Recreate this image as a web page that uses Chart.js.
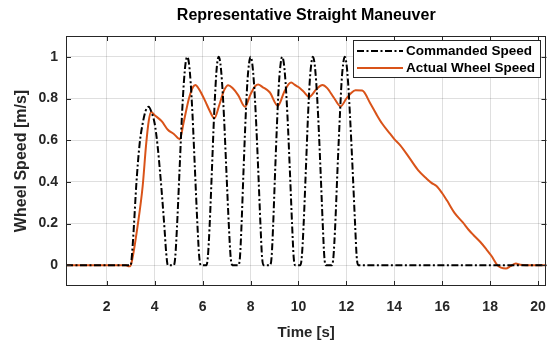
<!DOCTYPE html>
<html>
<head>
<meta charset="utf-8">
<script src="https://cdn.jsdelivr.net/npm/chart.js@4"></script>
<style>
html,body{margin:0;padding:0;background:#fff;}
#wrap{width:559px;height:343px;position:relative;}
</style>
</head>
<body>
<div id="wrap"><canvas id="c" width="559" height="343"></canvas></div>
<script>
// ---- data ----
const titleText = "Representative Straight Maneuver";
const xAxisTitle = "Time [s]";
const yAxisTitle = "Wheel Speed [m/s]";
const seriesNames = ["Commanded Speed", "Actual Wheel Speed"];

const xTicks = [2, 4, 6, 8, 10, 12, 14, 16, 18, 20];
const yTicks = [0, 0.2, 0.4, 0.6, 0.8, 1];

const cmdTime = [0.3, 3.0, 3.06, 3.14, 3.23, 3.37, 3.5, 3.62, 3.75, 3.88, 4.0, 4.12, 4.23, 4.33, 4.42, 4.48, 4.55,
  4.8, 4.86, 4.93, 5.04, 5.14, 5.22, 5.29, 5.36, 5.43, 5.5, 5.58, 5.68, 5.79, 5.86, 5.93,
  6.16, 6.22, 6.29, 6.39, 6.48, 6.55, 6.61, 6.67, 6.74, 6.81, 6.89, 6.99, 7.1, 7.17, 7.24,
  7.5, 7.56, 7.62, 7.71, 7.8, 7.87, 7.94, 8.0, 8.07, 8.14, 8.22, 8.32, 8.42, 8.48, 8.54,
  8.82, 8.88, 8.94, 9.03, 9.12, 9.19, 9.26, 9.32, 9.39, 9.46, 9.54, 9.64, 9.74, 9.8, 9.86,
  10.08, 10.14, 10.21, 10.31, 10.4, 10.47, 10.54, 10.6, 10.67, 10.74, 10.82, 10.92, 11.02, 11.08, 11.14,
  11.4, 11.46, 11.53, 11.63, 11.73, 11.8, 11.87, 11.93, 12.0, 12.07, 12.15, 12.26, 12.37, 12.43, 12.5,
  20.35];
const cmdSpeed = [0, 0, 0.06, 0.2, 0.38, 0.58, 0.68, 0.74, 0.76, 0.73, 0.68, 0.575, 0.44, 0.3, 0.16, 0.06, 0,
  0, 0.04, 0.18, 0.46, 0.72, 0.88, 0.97, 1.0, 0.97, 0.88, 0.72, 0.46, 0.18, 0.04, 0,
  0, 0.04, 0.18, 0.46, 0.72, 0.88, 0.97, 1.0, 0.97, 0.88, 0.72, 0.46, 0.18, 0.04, 0,
  0, 0.04, 0.18, 0.46, 0.72, 0.88, 0.97, 1.0, 0.97, 0.88, 0.72, 0.46, 0.18, 0.04, 0,
  0, 0.04, 0.18, 0.46, 0.72, 0.88, 0.97, 1.0, 0.97, 0.88, 0.72, 0.46, 0.18, 0.04, 0,
  0, 0.04, 0.18, 0.46, 0.72, 0.88, 0.97, 1.0, 0.97, 0.88, 0.72, 0.46, 0.18, 0.04, 0,
  0, 0.04, 0.18, 0.46, 0.72, 0.88, 0.97, 1.0, 0.97, 0.88, 0.72, 0.46, 0.18, 0.04, 0,
  0];

const actTime = [0.3, 2.8, 2.9, 2.98, 3.05, 3.29, 3.5, 3.64, 3.75, 3.85, 4.0, 4.3, 4.55, 4.8, 5.05,
  5.2, 5.43, 5.6, 5.7, 5.85, 6.12, 6.3, 6.49, 6.7, 6.9, 7.07, 7.25, 7.49, 7.77,
  8.0, 8.2, 8.32, 8.5, 8.8, 9.14, 9.4, 9.6, 9.7, 9.85, 10.0, 10.2, 10.45,
  10.75, 11.0, 11.2, 11.5, 11.76, 12.0, 12.18, 12.38, 12.66, 13.0, 13.25, 13.49,
  13.83, 14.0, 14.25, 14.66, 15.0, 15.35, 15.55, 15.76, 16.0, 16.2, 16.52, 16.86,
  17.1, 17.3, 17.6, 17.85, 18.05, 18.3, 18.45, 18.66, 18.85, 19.07, 19.25, 19.5, 20.35];
const actSpeed = [0, 0, -0.005, -0.005, 0.02, 0.19, 0.38, 0.575, 0.69, 0.735, 0.72, 0.69, 0.65, 0.63, 0.605,
  0.68, 0.8, 0.855, 0.865, 0.845, 0.785, 0.74, 0.705, 0.77, 0.84, 0.864, 0.85, 0.815, 0.76,
  0.82, 0.86, 0.867, 0.855, 0.83, 0.765, 0.83, 0.87, 0.877, 0.865, 0.855, 0.835, 0.808,
  0.845, 0.865, 0.85, 0.8, 0.762, 0.8, 0.824, 0.84, 0.838, 0.776, 0.725, 0.68,
  0.63, 0.605, 0.575, 0.51, 0.455, 0.415, 0.395, 0.38, 0.345, 0.31, 0.25, 0.205,
  0.17, 0.145, 0.11, 0.075, 0.045, 0.0, -0.012, -0.016, -0.005, 0.008, 0.002, 0, 0];

// ---- chart ----
const FONT = "'Liberation Sans', Arial, Helvetica, sans-serif";
const AX = '#262626';
const ORANGE = '#D95319';

function pts(xs, ys) { return xs.map((x, i) => ({ x: x, y: ys[i] })); }

const decor = {
  id: 'decor',
  beforeDraw(chart) {
    const ctx = chart.ctx;
    ctx.save();
    ctx.fillStyle = '#fff';
    ctx.fillRect(0, 0, chart.width, chart.height);
    ctx.restore();
  },
  afterDraw(chart) {
    const ctx = chart.ctx;
    const a = chart.chartArea;
    const xs = chart.scales.x, ys = chart.scales.y;
    ctx.save();
    // box
    ctx.strokeStyle = AX;
    ctx.lineWidth = 1;
    ctx.strokeRect(Math.round(a.left) + 0.5, Math.round(a.top) + 0.5, Math.round(a.right - a.left) - 1, Math.round(a.bottom - a.top) - 1);
    // inward ticks
    ctx.beginPath();
    xTicks.forEach(v => {
      const px = Math.round(xs.getPixelForValue(v)) + 0.5;
      ctx.moveTo(px, a.bottom); ctx.lineTo(px, a.bottom - 5);
      ctx.moveTo(px, a.top); ctx.lineTo(px, a.top + 5);
    });
    yTicks.forEach(v => {
      const py = Math.round(ys.getPixelForValue(v)) + 0.5;
      ctx.moveTo(a.left, py); ctx.lineTo(a.left + 5, py);
      ctx.moveTo(a.right, py); ctx.lineTo(a.right - 5, py);
    });
    ctx.stroke();
    // title
    const cx = (a.left + a.right) / 2;
    ctx.fillStyle = '#000';
    ctx.font = 'bold 16px ' + FONT;
    ctx.textAlign = 'center';
    ctx.textBaseline = 'alphabetic';
    ctx.fillText(titleText, cx, 20);
    // x axis title
    ctx.fillStyle = AX;
    ctx.font = 'bold 15px ' + FONT;
    ctx.fillText(xAxisTitle, cx, 337);
    // y axis title
    ctx.save();
    ctx.translate(22, (a.top + a.bottom) / 2);
    ctx.rotate(-Math.PI / 2);
    ctx.font = 'bold 16px ' + FONT;
    ctx.textBaseline = 'middle';
    ctx.fillText(yAxisTitle, 0, 0);
    ctx.restore();
    // legend
    const lx = 353.5, ly = 40.5, lw = 187, lh = 37;
    ctx.fillStyle = '#fff';
    ctx.fillRect(lx, ly, lw, lh);
    ctx.strokeStyle = AX;
    ctx.lineWidth = 1;
    ctx.strokeRect(lx, ly, lw, lh);
    const rows = [51, 68];
    chart.data.datasets.forEach((ds, i) => {
      ctx.beginPath();
      ctx.strokeStyle = ds.borderColor;
      ctx.lineWidth = ds.borderWidth;
      ctx.setLineDash(ds.borderDash || []);
      ctx.moveTo(357, rows[i]); ctx.lineTo(403, rows[i]);
      ctx.stroke();
      ctx.setLineDash([]);
      ctx.fillStyle = '#000';
      ctx.font = 'bold 13.5px ' + FONT;
      ctx.textAlign = 'left';
      ctx.textBaseline = 'middle';
      ctx.fillText(ds.label, 406, rows[i] + 0.5);
    });
    ctx.restore();
  }
};

new Chart(document.getElementById('c'), {
  type: 'line',
  data: {
    datasets: [
      {
        label: seriesNames[0],
        data: pts(cmdTime, cmdSpeed),
        borderColor: '#000',
        borderWidth: 2,
        borderDash: [7, 2.5, 2, 2.5],
        pointRadius: 0,
        cubicInterpolationMode: 'monotone',
        fill: false
      },
      {
        label: seriesNames[1],
        data: pts(actTime, actSpeed),
        borderColor: ORANGE,
        borderWidth: 2,
        pointRadius: 0,
        cubicInterpolationMode: 'monotone',
        fill: false
      }
    ]
  },
  options: {
    responsive: false,
    animation: false,
    devicePixelRatio: 1,
    layout: { padding: { top: 36, right: 7.3, bottom: 0, left: 0 } },
    plugins: { legend: { display: false }, title: { display: false }, tooltip: { enabled: false } },
    scales: {
      x: {
        type: 'linear',
        min: 0.3, max: 20.35,
        afterBuildTicks: s => { s.ticks = xTicks.map(v => ({ value: v })); },
        afterFit: s => { s.height = 57; },
        grid: { color: 'rgba(38,38,38,0.15)', drawTicks: false },
        border: { display: false },
        ticks: { color: AX, padding: 13, maxRotation: 0, font: { family: FONT, weight: 'bold', size: 14 } }
      },
      y: {
        type: 'linear',
        min: -0.1, max: 1.1,
        afterBuildTicks: s => { s.ticks = yTicks.map(v => ({ value: v })); },
        afterFit: s => { s.width = 66; },
        grid: { color: 'rgba(38,38,38,0.15)', drawTicks: false },
        border: { display: false },
        ticks: { color: AX, padding: 8, font: { family: FONT, weight: 'bold', size: 14 },
          callback: v => String(Math.round(v * 10) / 10) }
      }
    }
  },
  plugins: [decor]
});
</script>
</body>
</html>
